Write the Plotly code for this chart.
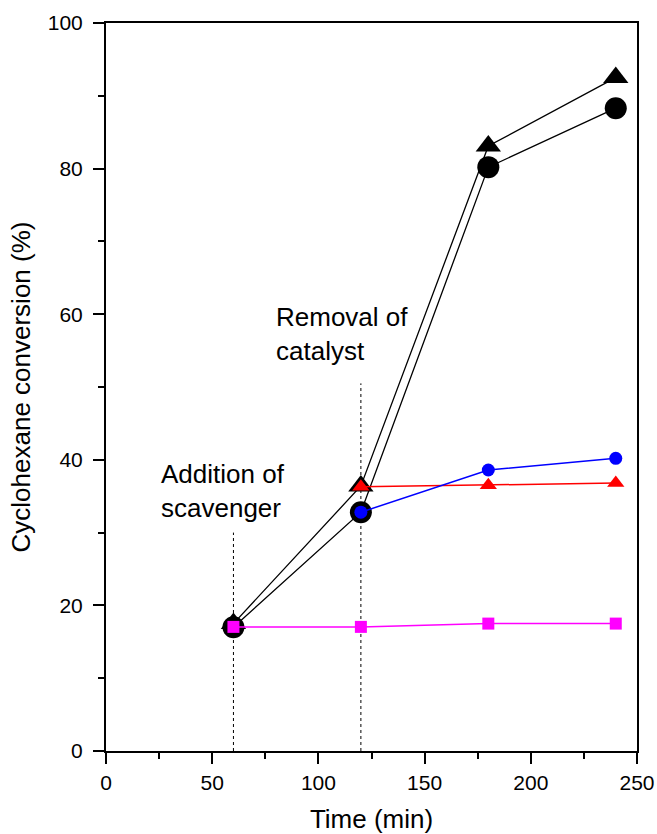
import plotly.graph_objects as go

time = [60, 120, 180, 240]
black_tri = [17.5, 36.4, 83.1, 92.5]
black_circ = [17.0, 32.8, 80.2, 88.3]
t_after = [120, 180, 240]
red_tri = [36.3, 36.5, 36.8]
blue_circ = [32.8, 38.6, 40.2]
magenta_sq = [17.05, 17.05, 17.5, 17.5]

dot1_x = [60, 60]
dot1_y = [0, 30]
dot2_x = [120, 120]
dot2_y = [0, 50.5]

x_ticks = [0, 50, 100, 150, 200, 250]
x_minor = [25, 75, 125, 175, 225]
y_ticks = [0, 20, 40, 60, 80, 100]
y_minor = [10, 30, 50, 70, 90]

FONT = "Liberation Sans, Arial, sans-serif"

fig = go.Figure()

fig.add_trace(go.Scatter(x=dot1_x, y=dot1_y, mode="lines",
                         line=dict(color="black", width=1, dash="dot"), showlegend=False))
fig.add_trace(go.Scatter(x=dot2_x, y=dot2_y, mode="lines",
                         line=dict(color="black", width=1, dash="dot"), showlegend=False))

fig.add_trace(go.Scatter(x=time, y=black_tri, mode="lines+markers",
                         line=dict(color="black", width=1.3),
                         marker=dict(symbol="triangle-up", size=22, color="black"),
                         showlegend=False))
fig.add_trace(go.Scatter(x=time, y=black_circ, mode="lines+markers",
                         line=dict(color="black", width=1.3),
                         marker=dict(symbol="circle", size=22, color="black"),
                         showlegend=False))
fig.add_trace(go.Scatter(x=t_after, y=red_tri, mode="lines+markers",
                         line=dict(color="#ff0000", width=1.5),
                         marker=dict(symbol="triangle-up", size=15, color="#ff0000"),
                         showlegend=False))
fig.add_trace(go.Scatter(x=t_after, y=blue_circ, mode="lines+markers",
                         line=dict(color="#0000ff", width=1.5),
                         marker=dict(symbol="circle", size=13, color="#0000ff"),
                         showlegend=False))
fig.add_trace(go.Scatter(x=time, y=magenta_sq, mode="lines+markers",
                         line=dict(color="#ff00ff", width=1.5),
                         marker=dict(symbol="square", size=12, color="#ff00ff"),
                         showlegend=False))

fig.add_annotation(x=25, y=35.7, xref="x", yref="y", text="Addition of<br>scavenger",
                   showarrow=False, xanchor="left", yanchor="middle", align="left",
                   font=dict(family=FONT, size=26, color="black"))
fig.add_annotation(x=79, y=57.3, xref="x", yref="y", text="Removal of<br>catalyst",
                   showarrow=False, xanchor="left", yanchor="middle", align="left",
                   font=dict(family=FONT, size=26, color="black"))

fig.update_layout(
    width=657, height=834,
    margin=dict(l=106, r=20, t=23, b=83),
    paper_bgcolor="white", plot_bgcolor="white",
    font=dict(family=FONT, color="black"),
)
fig.update_xaxes(
    range=[0, 250], tickvals=x_ticks,
    ticks="outside", ticklen=11, tickwidth=1.5, tickcolor="black",
    minor=dict(tickvals=x_minor, ticks="outside", ticklen=6, tickwidth=1.5, tickcolor="black"),
    showline=True, linecolor="black", linewidth=2, mirror=True,
    showgrid=False, zeroline=False, automargin=False,
    tickfont=dict(family=FONT, size=21), ticklabelstandoff=1, ticklabeloverflow="allow",
    title=dict(text="Time (min)", font=dict(family=FONT, size=26), standoff=23),
)
fig.update_yaxes(
    range=[0, 100], tickvals=y_ticks,
    ticks="outside", ticklen=11, tickwidth=1.5, tickcolor="black",
    minor=dict(tickvals=y_minor, ticks="outside", ticklen=6, tickwidth=1.5, tickcolor="black"),
    showline=True, linecolor="black", linewidth=2, mirror=True,
    showgrid=False, zeroline=False, automargin=False,
    tickfont=dict(family=FONT, size=21), ticklabelstandoff=6, ticklabeloverflow="allow",
    title=dict(text="Cyclohexane conversion (%)", font=dict(family=FONT, size=26), standoff=10),
)

# remove the browser's default 8px body margin so the figure fills the window
fig.write_html("out.html", config={"displayModeBar": False},
               post_script="document.body.style.margin='0px';")
